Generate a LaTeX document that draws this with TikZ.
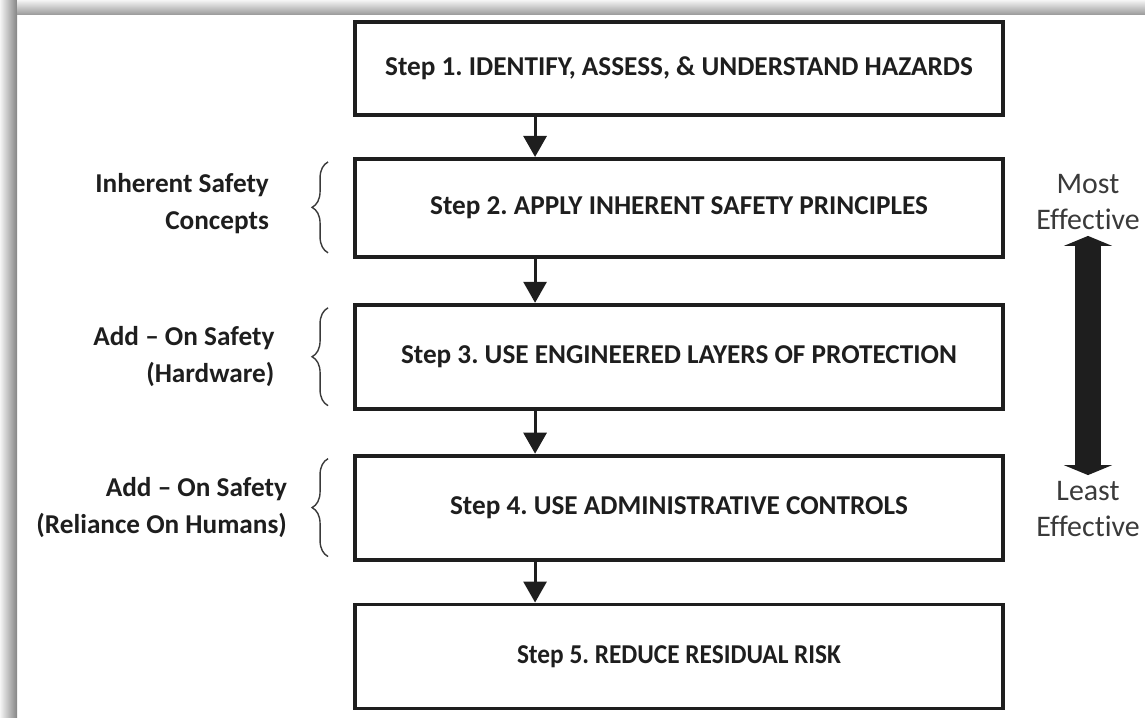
\documentclass[tikz,border=0pt]{standalone}
\usepackage{fontspec}
\setmainfont{Carlito}[Ligatures={NoCommon,NoRare,NoContextual}]
\usetikzlibrary{arrows.meta,positioning,calc,decorations.pathreplacing}
\definecolor{InkDark}{HTML}{1E1E1E}
\definecolor{InkGray}{HTML}{3A3A3A}
\tikzset{
  stepbox/.style={rectangle,draw=InkDark,line width=2.2pt,
             minimum width=12.96cm,minimum height=2.08cm,
             align=center,text=InkDark,
             font=\fontsize{15.5}{18}\selectfont\bfseries},
  arr/.style={-{Triangle[length=0.42cm,width=0.46cm]},line width=1.7pt,draw=InkDark},
  brc/.style={decorate,decoration={brace,amplitude=0.32cm},draw=InkGray,line width=0.8pt},
  sidelbl/.style={align=right,anchor=east,text=InkDark,
             font=\fontsize{15.5}{21}\selectfont\bfseries},
  efflbl/.style={align=center,text=InkGray,font=\fontsize{17}{20.5}\selectfont},
  bigarr/.style={{Triangle[length=0.2cm,width=0.96cm]}-{Triangle[length=0.2cm,width=0.96cm]},
             line width=0.52cm,draw=InkDark}
}
\begin{document}
\frenchspacing
\begin{tikzpicture}
  \useasboundingbox (0,0) rectangle (22.9,-14.34);
  % frame shadow
  \shade[left color=black!4,right color=black!48] (0,0) rectangle (0.34,-14.34);
  \shade[top color=black!4,bottom color=black!38] (0.34,0) rectangle (22.9,-0.28);

  \node[stepbox,minimum height=1.86cm] (step1) at (13.58,-1.37) {Step 1. IDENTIFY, ASSESS, \& UNDERSTAND HAZARDS};
  \node[stepbox,minimum height=1.96cm,below=0.8cm of step1] (step2) {Step 2. APPLY INHERENT SAFETY PRINCIPLES};
  \node[stepbox,below=0.88cm of step2] (step3) {Step 3. USE ENGINEERED LAYERS OF PROTECTION};
  \node[stepbox,below=0.86cm of step3] (step4) {Step 4. USE ADMINISTRATIVE CONTROLS};
  \node[stepbox,below=0.82cm of step4] (step5) {\scalebox{0.93}[1]{Step 5. REDUCE RESIDUAL RISK}};

  \draw[arr]([xshift=3.64cm]step1.south west)--([xshift=3.64cm]step2.north west);
  \draw[arr]([xshift=3.64cm]step2.south west)--([xshift=3.64cm]step3.north west);
  \draw[arr]([xshift=3.64cm]step3.south west)--([xshift=3.64cm]step4.north west);
  \draw[arr]([xshift=3.64cm]step4.south west)--([xshift=3.64cm]step5.north west);

  % braces and side labels
  \draw[brc]([xshift=-0.5cm,yshift=0.12cm]step2.south west)--([xshift=-0.5cm,yshift=-0.1cm]step2.north west);
  \draw[brc]([xshift=-0.5cm,yshift=0.1cm]step3.south west)--([xshift=-0.5cm,yshift=-0.1cm]step3.north west);
  \draw[brc]([xshift=-0.5cm,yshift=0.1cm]step4.south west)--([xshift=-0.5cm,yshift=-0.1cm]step4.north west);
  \node[sidelbl,left=1.56cm of step2.west,yshift=0.08cm] (isc) {Inherent Safety\\Concepts};
  \node[sidelbl,left=1.45cm of step3.west] (hw) {Add -- On Safety\\(Hardware)};
  \node[sidelbl,left=1.2cm of step4.west] (hum) {Add -- On Safety\\(Reliance On Humans)};

  % effectiveness scale
  \node[efflbl] (most) at (21.76,-4.04) {Most\\Effective};
  \node[efflbl] (least) at (21.76,-10.18) {Least\\Effective};
  \draw[bigarr](most.south)--(least.north);
\end{tikzpicture}
\end{document}
